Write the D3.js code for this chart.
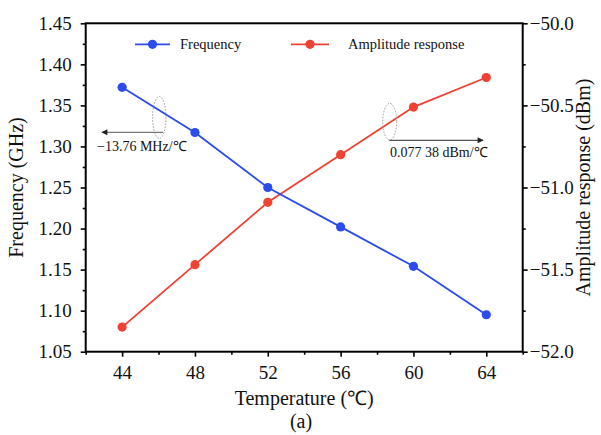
<!DOCTYPE html>
<html><head><meta charset="utf-8">
<script src="https://cdn.jsdelivr.net/npm/d3@7"></script>
<style>
body{margin:0;background:#fff;}
svg{display:block;}
text{font-family:"Liberation Serif","Times New Roman",serif;fill:#111;}
</style></head>
<body>
<script>
const temps = [44, 48, 52, 56, 60, 64];
const frequency = [1.372, 1.317, 1.250, 1.202, 1.154, 1.095];
const amplitude = [-51.85, -51.47, -51.09, -50.80, -50.51, -50.33];
const xTicks = [44, 48, 52, 56, 60, 64];
const yLeftTicks = [1.05, 1.10, 1.15, 1.20, 1.25, 1.30, 1.35, 1.40, 1.45];
const yRightTicks = [-52.0, -51.5, -51.0, -50.5, -50.0];
const seriesNames = ["Frequency", "Amplitude response"];
const annotations = ["\u221213.76 MHz/\u2103", "0.077 38 dBm/\u2103"];

const W = 601, H = 435;
const L = 85.7, R = 522.7, T = 23.3, B = 351.7;
const blue = "#2b4bef", red = "#ef4232";
const SERIF = "Liberation Serif";

const svg = d3.select("body").append("svg").attr("width", W).attr("height", H);

const x = d3.scaleLinear().domain([42, 66]).range([L, R]);
const yL = d3.scaleLinear().domain([1.05, 1.45]).range([B, T]);
const yR = d3.scaleLinear().domain([-52, -50]).range([B, T]);

const fmtMinus = s => s.replace("-", "\u2212");

const xMinor = d3.range(42, 67, 2).filter(v => !xTicks.includes(v));
const yLMinor = d3.range(0, 17).map(i => 1.05 + i * 0.025).filter((v, i) => i % 2 === 1);
const yRMinor = d3.range(0, 9).map(i => -52 + i * 0.25).filter((v, i) => i % 2 === 1);

function styleAxis(g) {
  g.attr("font-family", SERIF).attr("font-size", 19);
  g.select(".domain").remove();
  g.selectAll("line").attr("stroke", "#000").attr("stroke-width", 1.6);
  g.selectAll("text").attr("font-family", SERIF).attr("font-size", 19).attr("fill", "#111");
}

svg.append("g").attr("transform", `translate(0,${B})`)
  .call(d3.axisBottom(x).tickValues(xTicks).tickSize(5).tickPadding(9).tickFormat(d3.format("d")))
  .call(styleAxis);
svg.append("g").attr("transform", `translate(0,${B})`)
  .call(d3.axisBottom(x).tickValues(xMinor).tickSize(3).tickFormat(""))
  .call(styleAxis);

svg.append("g").attr("transform", `translate(${L},0)`)
  .call(d3.axisLeft(yL).tickValues(yLeftTicks).tickSize(5).tickPadding(9).tickFormat(d3.format(".2f")))
  .call(styleAxis);
svg.append("g").attr("transform", `translate(${L},0)`)
  .call(d3.axisLeft(yL).tickValues(yLMinor).tickSize(3).tickFormat(""))
  .call(styleAxis);

svg.append("g").attr("transform", `translate(${R},0)`)
  .call(d3.axisRight(yR).tickValues(yRightTicks).tickSize(5).tickPadding(2).tickFormat(d => fmtMinus(d3.format(".1f")(d))))
  .call(styleAxis);
svg.append("g").attr("transform", `translate(${R},0)`)
  .call(d3.axisRight(yR).tickValues(yRMinor).tickSize(3).tickFormat(""))
  .call(styleAxis);

svg.append("rect").attr("x", L).attr("y", T).attr("width", R - L).attr("height", B - T)
  .attr("fill", "none").attr("stroke", "#000").attr("stroke-width", 2);

const blueData = temps.map((t, i) => [t, frequency[i]]);
const redData = temps.map((t, i) => [t, amplitude[i]]);

svg.append("path").datum(redData)
  .attr("d", d3.line().x(d => x(d[0])).y(d => yR(d[1])))
  .attr("fill", "none").attr("stroke", red).attr("stroke-width", 1.8);
svg.append("path").datum(blueData)
  .attr("d", d3.line().x(d => x(d[0])).y(d => yL(d[1])))
  .attr("fill", "none").attr("stroke", blue).attr("stroke-width", 1.8);

svg.selectAll("circle.r").data(redData).join("circle").attr("class", "r")
  .attr("cx", d => x(d[0])).attr("cy", d => yR(d[1])).attr("r", 4.6).attr("fill", red);
svg.selectAll("circle.b").data(blueData).join("circle").attr("class", "b")
  .attr("cx", d => x(d[0])).attr("cy", d => yL(d[1])).attr("r", 4.6).attr("fill", blue);

const legend = [
  {name: seriesNames[0], color: blue, x0: 135, x1: 170, tx: 180},
  {name: seriesNames[1], color: red, x0: 291, x1: 329, tx: 348}
];
legend.forEach(l => {
  svg.append("line").attr("x1", l.x0).attr("x2", l.x1).attr("y1", 44.3).attr("y2", 44.3)
    .attr("stroke", l.color).attr("stroke-width", 1.8);
  svg.append("circle").attr("cx", (l.x0 + l.x1) / 2).attr("cy", 44.3).attr("r", 4.6).attr("fill", l.color);
  svg.append("text").attr("x", l.tx).attr("y", 49.3).style("font-size", "14.5px").text(l.name);
});

const defs = svg.append("defs");
defs.append("marker").attr("id", "ah").attr("viewBox", "0 0 10 10").attr("refX", 9).attr("refY", 5)
  .attr("markerWidth", 10).attr("markerHeight", 6).attr("markerUnits", "userSpaceOnUse").attr("orient", "auto")
  .append("path").attr("d", "M0,0 L10,5 L0,10 z").attr("fill", "#222");

svg.append("ellipse").attr("cx", 159.3).attr("cy", 117.5).attr("rx", 6.7).attr("ry", 21)
  .attr("fill", "none").attr("stroke", "#999").attr("stroke-width", 1).attr("stroke-dasharray", "1.5,1.5");
svg.append("line").attr("x1", 163).attr("x2", 102).attr("y1", 132.3).attr("y2", 132.3)
  .attr("stroke", "#777").attr("stroke-width", 1.2).attr("marker-end", "url(#ah)");
svg.append("text").attr("x", 97).attr("y", 150.5).style("font-size", "14px").text(annotations[0]);

svg.append("ellipse").attr("cx", 389.7).attr("cy", 121.7).attr("rx", 7).attr("ry", 18.3)
  .attr("fill", "none").attr("stroke", "#999").attr("stroke-width", 1).attr("stroke-dasharray", "1.5,1.5");
svg.append("line").attr("x1", 389.3).attr("x2", 483).attr("y1", 140.3).attr("y2", 140.3)
  .attr("stroke", "#555").attr("stroke-width", 1.2).attr("marker-end", "url(#ah)");
svg.append("text").attr("x", 390).attr("y", 157.3).style("font-size", "14px").text(annotations[1]);

svg.append("text").attr("transform", `translate(23,${(T + B) / 2}) rotate(-90)`)
  .attr("text-anchor", "middle").style("font-size", "20px").text("Frequency (GHz)");
svg.append("text").attr("transform", `translate(590,${(T + B) / 2}) rotate(-90)`)
  .attr("text-anchor", "middle").style("font-size", "20px").text("Amplitude response (dBm)");
svg.append("text").attr("x", (L + R) / 2).attr("y", 404.5)
  .attr("text-anchor", "middle").style("font-size", "20px").text("Temperature (\u2103)");
svg.append("text").attr("x", 301).attr("y", 428)
  .attr("text-anchor", "middle").style("font-size", "20px").text("(a)");
</script>
</body></html>
